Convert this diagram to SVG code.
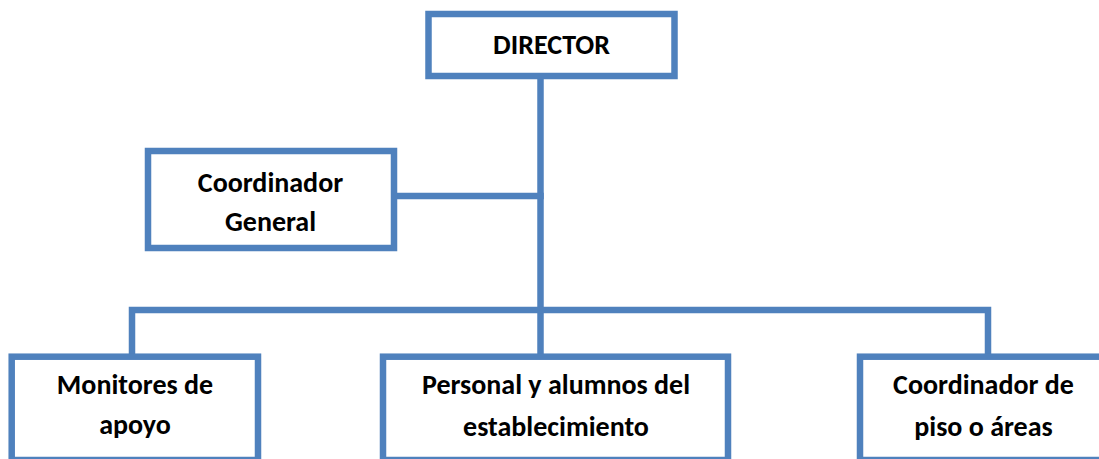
<svg xmlns="http://www.w3.org/2000/svg" width="1099" height="459" viewBox="0 0 1099 459">
<style>
.box{fill:#FFFFFF;stroke:#4F81BD;stroke-width:6.5}
.ln{fill:none;stroke:#4F81BD;stroke-width:6.5;stroke-linecap:square;stroke-linejoin:miter}
.t{font-family:Carlito,Lato,"Liberation Sans",sans-serif;font-weight:bold;font-size:28px;fill:#000000;text-anchor:middle}
</style>
<rect width="1099" height="459" fill="#FFFFFF"/>
<g id="connectors">
<path class="ln" d="M540.5 79 V353"/>
<path class="ln" d="M397 196 H540.5"/>
<path class="ln" d="M132 353 V310 H988 V353"/>
</g>
<g id="director">
<rect class="box" x="428.5" y="14" width="246" height="62"/>
<text class="t" x="551.5" y="54">DIRECTOR</text>
</g>
<g id="coordinador-general">
<rect class="box" x="148" y="151" width="246" height="97"/>
<text class="t" x="270.5" y="192">Coordinador</text>
<text class="t" x="270.5" y="231">General</text>
</g>
<g id="monitores">
<rect class="box" x="11.7" y="356.7" width="246.3" height="103.3"/>
<text class="t" x="135" y="394">Monitores de</text>
<text class="t" x="135" y="434">apoyo</text>
</g>
<g id="personal">
<rect class="box" x="383" y="356.7" width="345" height="103.3"/>
<text class="t" x="556" y="394">Personal y alumnos del</text>
<text class="t" x="556" y="436">establecimiento</text>
</g>
<g id="coordinador-piso">
<rect class="box" x="860" y="356.7" width="246" height="103.3"/>
<text class="t" x="983.5" y="394">Coordinador de</text>
<text class="t" x="983.5" y="436">piso o áreas</text>
</g>
</svg>
